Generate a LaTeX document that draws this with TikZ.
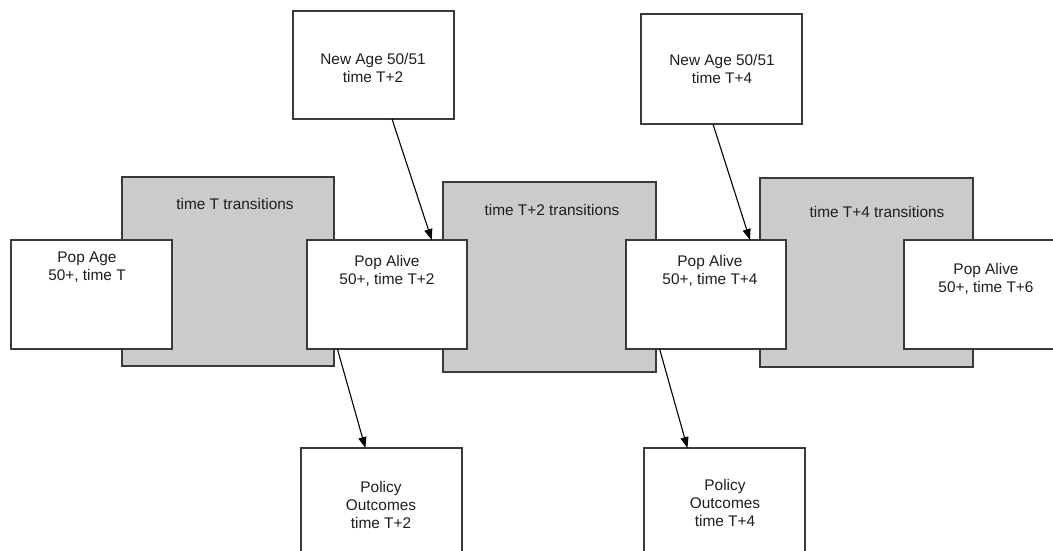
\documentclass[tikz,border=0pt]{standalone}
\usepackage{fontspec}
\setmainfont{Liberation Sans}
\usetikzlibrary{arrows.meta,calc}
\definecolor{edge}{HTML}{3A3A3A}
\definecolor{shade}{HTML}{CBCBCB}
\definecolor{ink}{HTML}{1E1E1E}
\tikzset{
  panel/.style={draw=edge, line width=1.1pt, inner sep=0pt, outer sep=0pt, anchor=north west},
  graybox/.style={panel, fill=shade},
  whitebox/.style={panel, fill=white},
  lbl/.style={text=ink, align=center, inner sep=0pt, font=\fontsize{15.4pt}{18.3pt}\selectfont},
  flow/.style={draw=black, line width=1.1pt, -{Triangle[length=11pt,width=8pt]}},
}
\begin{document}
\begin{tikzpicture}[x=1pt,y=-1pt]
\useasboundingbox (0,0) rectangle (1053,551);
\clip (0,0) rectangle (1053,551);
\fill[white] (0,0) rectangle (1053,551);
% gray transition panels
\node[graybox, minimum width=212pt, minimum height=189pt] (gT) at (122,177) {};
\node[graybox, minimum width=213pt, minimum height=190pt] (gT2) at (443,182) {};
\node[graybox, minimum width=213pt, minimum height=189pt] (gT4) at (760,178) {};
\node[lbl] (tT) at (235,204) {time T transitions};
\node[lbl] (tT2) at (552,210) {time T+2 transitions};
\node[lbl] (tT4) at (877,212) {time T+4 transitions};
% population boxes
\node[whitebox, minimum width=161pt, minimum height=109pt] (popage) at (11,240) {};
\node[whitebox, minimum width=160pt, minimum height=109pt] (alive2) at (307,240) {};
\node[whitebox, minimum width=160pt, minimum height=109pt] (alive4) at (626,240) {};
\node[whitebox, minimum width=160pt, minimum height=109pt] (alive6) at (904,240) {};
\node[lbl] (popagetxt) at (87,267) {Pop Age\\50+, time T};
\node[lbl] (alive2txt) at (387,271) {Pop Alive\\50+, time T+2};
\node[lbl] (alive4txt) at (710,271) {Pop Alive\\50+, time T+4};
\node[lbl] (alive6txt) at (986,279) {Pop Alive\\50+, time T+6};
% new age boxes
\node[whitebox, minimum width=161pt, minimum height=108pt] (new2) at (293,11) {};
\node[whitebox, minimum width=161pt, minimum height=110pt] (new4) at (641,14) {};
\node[lbl] (new2txt) at (373,68) {New Age 50/51\\time T+2};
\node[lbl] (new4txt) at (722,69) {New Age 50/51\\time T+4};
% policy boxes
\node[whitebox, minimum width=161pt, minimum height=110pt] (pol2) at (301,448) {};
\node[whitebox, minimum width=161pt, minimum height=110pt] (pol4) at (644,448) {};
\node[lbl] (pol2txt) at (381,505) {Policy\\Outcomes\\time T+2};
\node[lbl] (pol4txt) at (725,503) {Policy\\Outcomes\\time T+4};
% connectors
\draw[flow] ($(new2.south west)!0.615!(new2.south east)$) -- ($(alive2.north west)!0.78!(alive2.north east)$);
\draw[flow] ($(new4.south west)!0.447!(new4.south east)$) -- ($(alive4.north west)!0.775!(alive4.north east)$);
\draw[flow] ($(alive2.south west)!0.19!(alive2.south east)$) -- ($(pol2.north west)!0.40!(pol2.north east)$);
\draw[flow] ($(alive4.south west)!0.21!(alive4.south east)$) -- ($(pol4.north west)!0.27!(pol4.north east)$);
\end{tikzpicture}
\end{document}
